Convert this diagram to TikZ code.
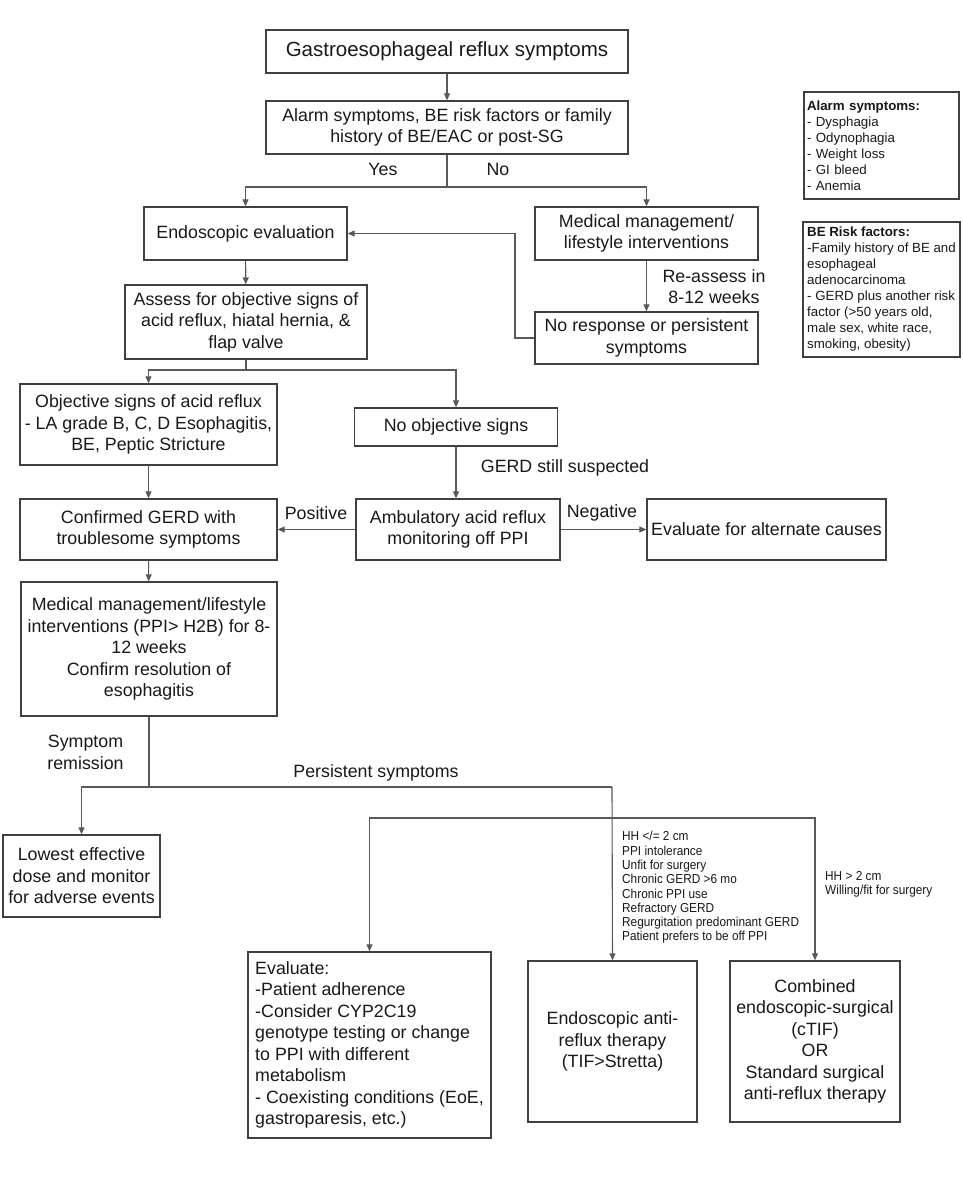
\documentclass[tikz,border=0pt]{standalone}
\usepackage{fontspec}
\setmainfont{Liberation Sans}
\newfontfamily\narrowfont[FakeStretch=0.91]{Liberation Sans}
\usetikzlibrary{arrows.meta}
\begin{document}
\begin{tikzpicture}[x=1pt,y=-1pt,
  box/.style={draw=black!75, line width=1.3pt, align=center, inner sep=2pt,
    font=\fontsize{17.8}{21.5}\selectfont, text=black!90},
  legendbox/.style={draw=black!75, line width=1.2pt, align=left, inner sep=3pt,
    font=\fontsize{13.3}{16}\selectfont, text=black!90, anchor=center},
  arr/.style={draw=black!65, line width=1.1pt, -{Triangle[length=7pt,width=6pt]}},
  ln/.style={draw=black!65, line width=1.1pt},
  lbl/.style={font=\fontsize{17.8}{21.5}\selectfont, align=center, inner sep=0pt, text=black!90},
  smalllbl/.style={font=\narrowfont\fontsize{13}{14.3}\selectfont, align=left, inner sep=0pt, text=black!90, anchor=west}
]
\fill[white] (0,0) rectangle (962,1200);
\useasboundingbox (0,0) rectangle (962,1200);

% nodes
\node[box, minimum width=362pt, minimum height=43pt, font=\fontsize{20.5}{24}\selectfont] (A) at (447,51.5) {Gastroesophageal reflux symptoms};
\node[box, minimum width=362pt, minimum height=53pt] (B) at (447,127.5) {Alarm symptoms, BE risk factors or family\\history of BE/EAC or post-SG};
\node[box, minimum width=203pt, minimum height=53pt] (C) at (245.5,233.5) {Endoscopic evaluation};
\node[box, minimum width=223pt, minimum height=53pt] (D) at (646.5,233.5) {Medical management/\\lifestyle interventions};
\node[box, minimum width=223pt, minimum height=52pt] (E) at (646.5,338) {No response or persistent\\symptoms};
\node[box, minimum width=242pt, minimum height=74pt] (F) at (246,322) {Assess for objective signs of\\acid reflux, hiatal hernia, \&\\flap valve};
\node[box, minimum width=257pt, minimum height=81pt] (G) at (148.5,424.5) {Objective signs of acid reflux\\- LA grade B, C, D Esophagitis,\\BE, Peptic Stricture};
\node[box, minimum width=203pt, minimum height=38pt] (H) at (456,427) {No objective signs};
\node[box, minimum width=204pt, minimum height=61pt] (I) at (458,529.5) {Ambulatory acid reflux\\monitoring off PPI};
\node[box, minimum width=257pt, minimum height=61pt] (J) at (148.5,529.5) {Confirmed GERD with\\troublesome symptoms};
\node[box, minimum width=239pt, minimum height=61pt] (K) at (766.5,529.5) {Evaluate for alternate causes};
\node[box, minimum width=256pt, minimum height=134pt] (L) at (149,649) {Medical management/lifestyle\\interventions (PPI> H2B) for 8-\\12 weeks\\Confirm resolution of\\esophagitis};
\node[box, minimum width=157pt, minimum height=82pt] (M) at (81.5,876) {Lowest effective\\dose and monitor\\for adverse events};
\node[box, minimum width=243pt, minimum height=186pt, align=left] (N) at (369.5,1045) {Evaluate:\\-Patient adherence\\-Consider CYP2C19\\genotype testing or change\\to PPI with different\\metabolism\\- Coexisting conditions (EoE,\\gastroparesis, etc.)};
\node[box, minimum width=169pt, minimum height=161pt] (O) at (612.5,1041.5) {Endoscopic anti-\\reflux therapy\\(TIF>Stretta)};
\node[box, minimum width=170pt, minimum height=161pt] (P) at (815,1041.5) {Combined\\endoscopic-surgical\\(cTIF)\\OR\\Standard surgical\\anti-reflux therapy};

\node[legendbox, text width=149pt, minimum height=107pt] (Q) at (881.5,145.5) {\textbf{Alarm symptoms:}\\- Dysphagia\\- Odynophagia\\- Weight loss\\- GI bleed\\- Anemia};
\node[legendbox, minimum width=157pt, minimum height=135pt] (R) at (881.5,289.5) {\textbf{BE Risk factors:}\\-Family history of BE and\\esophageal\\adenocarcinoma\\- GERD plus another risk\\factor (>50 years old,\\male sex, white race,\\smoking, obesity)};

% connectors
\draw[arr] (A) -- (B);
\coordinate (bsplit) at (447,187);
\draw[ln] (B.south) -- (bsplit);
\draw[arr] (bsplit) -| (C.north);
\draw[arr] (bsplit) -| (D.north);
\node[lbl] (yes) at (383,169) {Yes};
\node[lbl] (no) at (498,169) {No};

\draw[arr] (D) -- (E);
\node[lbl] (reassess) at (714,286.5) {Re-assess in\\8-12 weeks};
\coordinate (eback) at (515,338);
\draw[arr] (E.west) -- (eback) |- (C.east);

\draw[arr] (C) -- (F);
\coordinate (fsplit) at (246,370);
\draw[ln] (F.south) -- (fsplit);
\draw[arr] (fsplit) -| (G.north);
\draw[arr] (fsplit) -| (H.north);

\draw[arr] (H.south) -- (H.south |- I.north);
\node[lbl] (suspect) at (565,468) {GERD still suspected};
\draw[arr] (G) -- (J);
\draw[arr] (I) -- (J);
\node[lbl] (pos) at (316,513) {Positive};
\draw[arr] (I) -- (K);
\node[lbl] (neg) at (602,513) {Negative};

\draw[arr] (J) -- (L);
\coordinate (lsplit) at (149,787);
\coordinate (persist) at (612,787);
\draw[ln] (L.south) -- (lsplit);
\draw[arr] (lsplit) -| (M.north);
\draw[ln] (lsplit) -- (persist);
\draw[arr] (persist) -- (O.north);
\coordinate (psplit) at (612,818);
\draw[arr] (psplit) -| (N.north);
\draw[arr] (psplit) -| (P.north);
\node[lbl] (remission) at (85.5,752.5) {Symptom\\remission};
\node[lbl] (persistlbl) at (376,773) {Persistent symptoms};

\node[smalllbl] (hhsmall) at (622,887.5) {HH </= 2 cm\\PPI intolerance\\Unfit for surgery\\Chronic GERD >6 mo\\Chronic PPI use\\Refractory GERD\\Regurgitation predominant GERD\\Patient prefers to be off PPI};
\node[smalllbl] (hhbig) at (825,884) {HH > 2 cm\\Willing/fit for surgery};
\end{tikzpicture}
\end{document}
